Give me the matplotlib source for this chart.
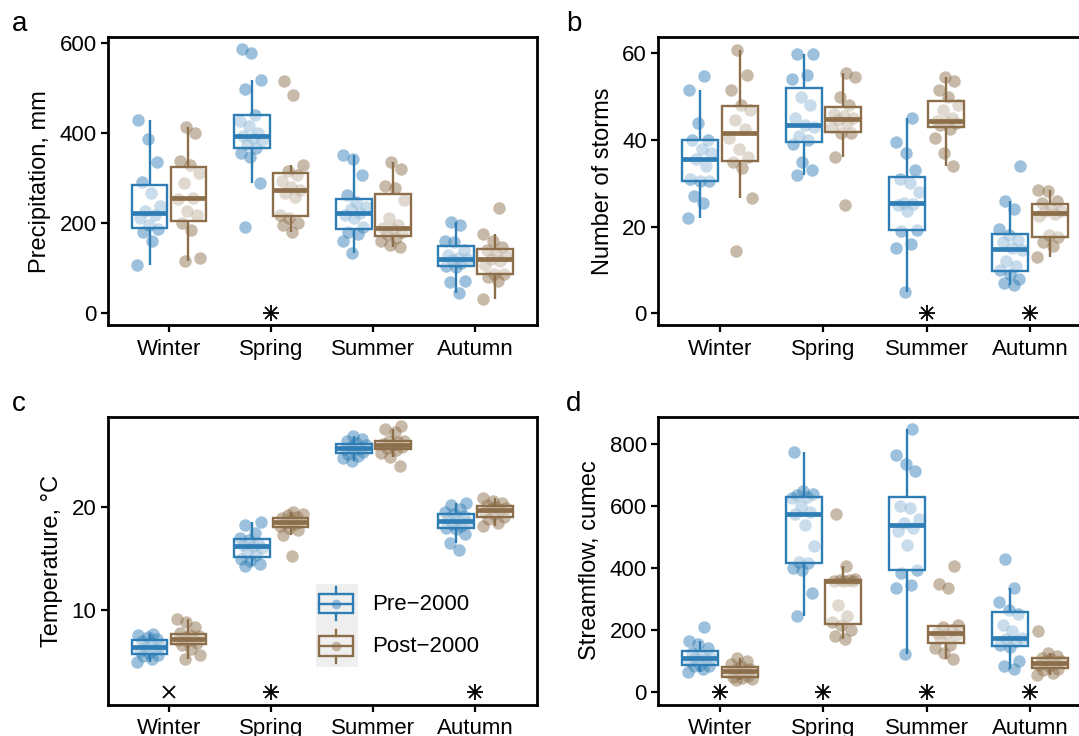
import numpy as np
import matplotlib
matplotlib.use("Agg")
import matplotlib.pyplot as plt
from matplotlib.patches import Rectangle
from matplotlib.lines import Line2D

plt.rcParams['font.family'] = ['Liberation Sans', 'DejaVu Sans']

seasons = ['Winter', 'Spring', 'Summer', 'Autumn']
groups = ['Pre\u22122000', 'Post\u22122000']

# a: precipitation (mm)
prec_pre = [[107, 160, 180, 185, 195, 210, 218, 225, 238, 265, 290, 335, 386, 428],
            [190, 288, 345, 355, 365, 375, 383, 388, 392, 400, 415, 425, 440, 498, 517, 578, 585],
            [133, 160, 175, 180, 190, 210, 218, 222, 230, 235, 245, 262, 305, 342, 350],
            [43, 68, 70, 102, 104, 110, 118, 120, 122, 128, 140, 158, 160, 195, 202]]
prec_post = [[114, 122, 184, 200, 218, 227, 253, 255, 289, 310, 328, 338, 400, 413],
             [180, 195, 200, 210, 218, 258, 265, 272, 280, 292, 305, 315, 328, 483, 514],
             [145, 150, 160, 165, 175, 180, 185, 188, 195, 210, 250, 278, 282, 320, 335],
             [30, 70, 80, 85, 86, 105, 115, 120, 125, 130, 140, 145, 160, 175, 232]]

# b: number of storms
storm_pre = [[22, 25.5, 27, 30.5, 30.5, 31, 34, 35.5, 37, 38, 40, 40, 44, 51.5, 54.7],
             [32, 33, 35, 39, 40, 41, 43, 43.5, 45, 48, 50, 54, 55, 59.8, 59.8],
             [5, 15, 16, 19, 19.2, 23.5, 25, 25.2, 25.5, 28, 30, 31, 33, 37, 39.5, 45],
             [6.5, 7, 8, 9, 10, 11, 12, 14.5, 15, 16.5, 17, 18, 19.5, 24, 26, 34]]
storm_post = [[14.4, 26.5, 33.5, 35, 36, 38, 40.5, 42.5, 44.5, 47, 48, 51.5, 55, 60.8],
              [25, 36, 41.5, 41.6, 43, 44, 44.5, 45, 45.5, 46, 48, 50, 54.6, 55.5],
              [34, 37, 40.5, 42.5, 43.5, 44, 44.2, 44.3, 45, 47, 48, 50, 51.5, 53.5, 54.5],
              [13, 15.5, 16.5, 17.5, 18, 22.5, 23, 23.5, 23.5, 24, 25.5, 26, 28.2, 28.5]]

# c: temperature (degC)
temp_pre = [[4.9, 5.2, 5.5, 5.6, 5.8, 6.0, 6.2, 6.4, 6.5, 6.8, 7.0, 7.2, 7.4, 7.6, 7.7],
            [14.3, 14.5, 14.8, 15.0, 15.3, 15.6, 16.0, 16.2, 16.3, 16.5, 16.8, 17.0, 17.5, 18.3, 18.6],
            [24.5, 24.8, 25.0, 25.2, 25.4, 25.6, 25.7, 25.8, 25.9, 26.0, 26.2, 26.4, 26.6, 26.9],
            [15.8, 16.5, 17.4, 17.9, 18.0, 18.2, 18.4, 18.6, 18.8, 18.9, 19.1, 19.3, 19.5, 19.8, 20.2, 20.4]]
temp_post = [[5.25, 5.6, 6.2, 6.6, 6.8, 7.0, 7.1, 7.2, 7.3, 7.5, 7.6, 7.8, 8.3, 8.8, 9.15],
             [15.2, 17.3, 17.8, 18.0, 18.2, 18.4, 18.5, 18.6, 18.7, 18.9, 19.0, 19.2, 19.3, 19.5],
             [24.0, 24.9, 25.3, 25.6, 25.8, 25.9, 26.0, 26.1, 26.3, 26.4, 26.45, 27.3, 27.6, 27.9],
             [18.2, 18.5, 18.8, 19.0, 19.3, 19.5, 19.7, 19.8, 19.9, 20.0, 20.2, 20.4, 20.6, 20.9]]

# d: streamflow (cumec)
flow_pre = [[65, 75, 84, 85, 88, 100, 105, 108, 110, 115, 125, 140, 155, 165, 208],
            [246, 320, 395, 400, 415, 420, 470, 540, 575, 580, 600, 625, 630, 635, 640, 650, 775],
            [123, 335, 345, 385, 395, 475, 520, 530, 545, 560, 595, 600, 712, 735, 765, 850],
            [75, 85, 100, 145, 150, 165, 170, 175, 195, 215, 250, 265, 290, 335, 430]]
flow_post = [[37, 40, 44, 47, 52, 60, 65, 68, 72, 75, 82, 90, 100, 110],
             [172, 180, 200, 215, 225, 245, 280, 357, 358, 359, 360, 362, 365, 405, 575],
             [105, 125, 140, 150, 175, 185, 187, 190, 200, 210, 215, 335, 350, 405],
             [55, 60, 70, 75, 82, 88, 92, 95, 100, 105, 110, 115, 125, 195]]

# significance marks ('*' = asterisk, 'x' = cross)
sig_a = ['', '*', '', '']
sig_b = ['', '', '*', '*']
sig_c = ['x', '*', '', '*']
sig_d = ['*', '*', '*', '*']

BLUE = '#2F7DB5'
BROWN = '#8C6E4A'
W, H = 1079, 736
TICK_FS = 16
TITLE_FS = 17

fig = plt.figure(figsize=(W / 100, H / 100), dpi=100)


def fx(x):
    return x / W


def fy(y):
    return 1 - y / H


def panel(left, top, right, bottom, pre, post, ylim, yticks, ylabel, sig, sig_y, letter):
    ax = fig.add_axes([fx(left), fy(bottom), (right - left) / W, (bottom - top) / H])
    for k, (vals, off, col) in enumerate([(pre, -0.19, BLUE), (post, 0.19, BROWN)]):
        pos = np.arange(len(vals)) + off
        for i, v in enumerate(vals):
            v = np.asarray(v, float)
            jit = ((np.arange(len(v)) * 0.618034 + 0.37 * k + 0.21 * i) % 1 - 0.5) * 0.24
            ax.plot(pos[i] + jit, v, 'o', ms=9, color=col, alpha=0.47, mec='none', zorder=2)
        ax.boxplot(vals, positions=pos, widths=0.35, whis=1.5, showfliers=False,
                   showcaps=False, patch_artist=True, manage_ticks=False, zorder=3,
                   boxprops=dict(facecolor=(1, 1, 1, 0.45), edgecolor=col, linewidth=1.7),
                   whiskerprops=dict(color=col, linewidth=1.7, solid_capstyle='butt'),
                   medianprops=dict(color=col, linewidth=3.4, solid_capstyle='butt'))
    for i, s in enumerate(sig):
        if s == '*':
            ax.plot(i, sig_y, marker='+', ms=11, mew=1.3, color='k', zorder=4)
            ax.plot(i, sig_y, marker='x', ms=8, mew=1.3, color='k', zorder=4)
        elif s == 'x':
            ax.plot(i, sig_y, marker='x', ms=8, mew=1.3, color='k', zorder=4)
    ax.set_xlim(-0.6, 3.6)
    ax.set_ylim(*ylim)
    ax.set_xticks(range(4), seasons)
    ax.set_yticks(yticks)
    ax.set_ylabel(ylabel, fontsize=TITLE_FS, labelpad=6)
    ax.tick_params(length=5, width=1.6, labelsize=TICK_FS, pad=3, colors='k')
    ax.tick_params(axis='x', pad=5)
    for sp in ax.spines.values():
        sp.set_linewidth(2.0)
    fig.text(fx(12 if left < 300 else 566), fy(top - 6), letter,
             fontsize=20, ha='left', va='baseline')
    return ax


panel(107.7, 37.3, 536.7, 325, prec_pre, prec_post, (-27.3, 612), [0, 200, 400, 600],
      'Precipitation, mm', sig_a, 0, 'a')
panel(658, 37.3, 1092, 325, storm_pre, storm_post, (-2.7, 63.7), [0, 20, 40, 60],
      'Number of storms', sig_b, 0, 'b')
panel(107.7, 416.7, 536.7, 704.5, temp_pre, temp_post, (0.8, 28.8), [10, 20],
      'Temperature, \u00b0C', sig_c, 2.0, 'c')
panel(658, 416.7, 1092, 704.5, flow_pre, flow_post, (-41, 889), [0, 200, 400, 600, 800],
      'Streamflow, cumec', sig_d, 0, 'd')

# legend inside panel c
fig.add_artist(Rectangle((fx(316), fy(667)), 42 / W, 83 / H, transform=fig.transFigure,
                         facecolor='#EFEFEF', edgecolor='none'))
for col, label, yc in [(BLUE, groups[0], 603.7), (BROWN, groups[1], 646)]:
    fig.add_artist(Rectangle((fx(319.3), fy(yc + 9.7)), 34 / W, 19.4 / H,
                             transform=fig.transFigure, fill=False, edgecolor=col, linewidth=1.7))
    fig.add_artist(Line2D([fx(319.3), fx(353.3)], [fy(yc), fy(yc)], transform=fig.transFigure,
                          color=col, linewidth=1.7))
    fig.add_artist(Line2D([fx(336.3), fx(336.3)], [fy(yc - 16.5), fy(yc - 9.7)],
                          transform=fig.transFigure, color=col, linewidth=1.7))
    fig.add_artist(Line2D([fx(336.3), fx(336.3)], [fy(yc + 9.7), fy(yc + 16.5)],
                          transform=fig.transFigure, color=col, linewidth=1.7))
    fig.add_artist(Line2D([fx(336.3)], [fy(yc)], transform=fig.transFigure, marker='o',
                          ms=7, color=col, alpha=0.45, mec='none'))
    fig.text(fx(372), fy(yc + 1), label, fontsize=TICK_FS, ha='left', va='center')

fig.savefig('out.png', dpi=100)
